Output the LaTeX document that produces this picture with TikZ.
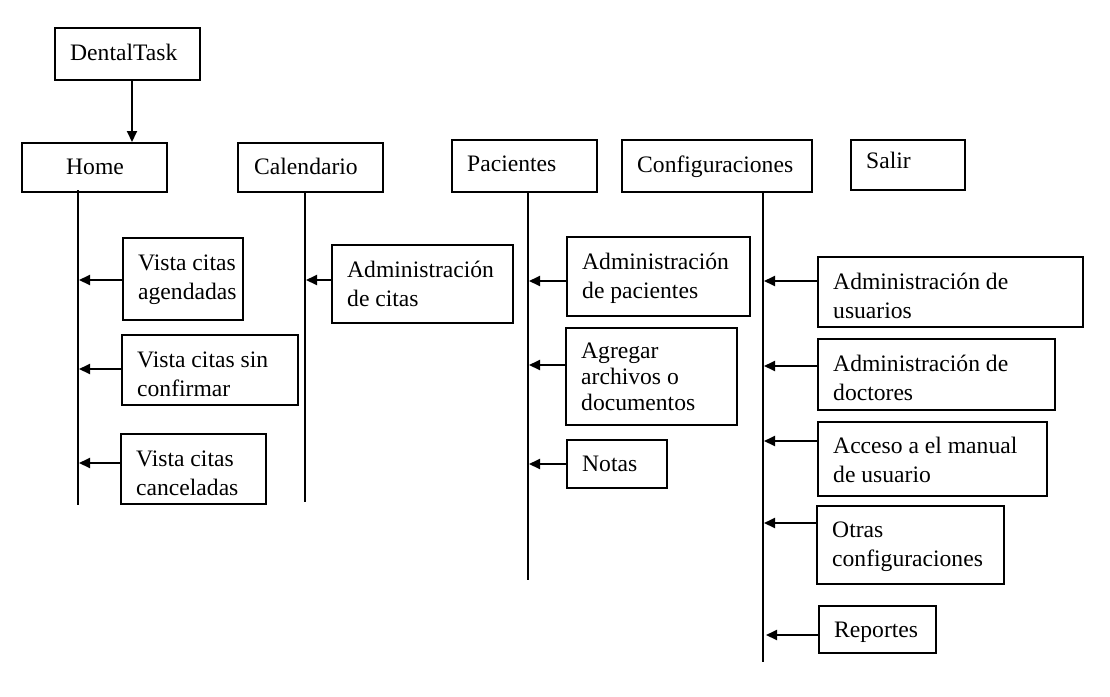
\documentclass[tikz,border=0pt]{standalone}
\usepackage{fontspec}
\setmainfont{Liberation Serif}
\usetikzlibrary{arrows.meta}
\newcommand{\lns}[1]{\begin{tabular}[t]{@{}l@{}}#1\end{tabular}}
\begin{document}
\begin{tikzpicture}[x=1pt,y=-1pt,
  box/.style={draw=black,line width=2pt,inner sep=0pt,fill=white},
  lbl/.style={inner sep=0pt,anchor=base west,font=\fontsize{23.6}{29.5}\selectfont},
  arr/.style={line width=2pt,-{Triangle[length=11pt,width=10pt]}},
  vline/.style={line width=2pt}]
\useasboundingbox[fill=white] (0,0) rectangle (1110,696);
% helper: box from (l,t) to (r,b)
\def\bx#1#2#3#4#5{\node[box,minimum width=#4-#2,minimum height=#5-#3] (#1) at ({(#2+#4)/2},{(#3+#5)/2}) {};}
% top level
\bx{dental}{55}{28}{200}{80}
\bx{home}{22}{143}{167}{192}
\bx{cal}{238}{143}{383}{192}
\bx{pac}{452}{140}{597}{192}
\bx{cfg}{622}{140}{812}{192}
\bx{sal}{851}{140}{965}{190}
\node[lbl] (dental-t) at (70,60) {DentalTask};
\node[lbl,anchor=base] (home-t) at (95,174) {Home};
\node[lbl] (cal-t) at (254,174) {Calendario};
\node[lbl] (pac-t) at (467,171) {Pacientes};
\node[lbl] (cfg-t) at (637,172) {Configuraciones};
\node[lbl] (sal-t) at (866,168) {Salir};
\draw[arr] ([xshift=4.5pt]dental.south) -- ([xshift=4.5pt]dental.south |- home.north);
% vertical lines
\coordinate (homeEnd) at (78,505);
\coordinate (calEnd) at (305,502);
\coordinate (pacEnd) at (528,580);
\coordinate (cfgEnd) at (763,662);
\draw[vline] ([yshift=3pt]home.south -| homeEnd) -- (homeEnd);
\draw[vline] (cal.south -| calEnd) -- (calEnd);
\draw[vline] (pac.south -| pacEnd) -- (pacEnd);
\draw[vline] (cfg.south -| cfgEnd) -- (cfgEnd);
% Home children
\bx{vca}{123}{238}{243}{320}
\bx{vcs}{122}{335}{298}{405}
\bx{vcc}{121}{434}{266}{504}
\node[lbl] (vca-t) at (138,270) {\lns{Vista citas\\agendadas}};
\node[lbl] (vcs-t) at (137,367) {\lns{Vista citas sin\\confirmar}};
\node[lbl] (vcc-t) at (136,466) {\lns{Vista citas\\canceladas}};
\coordinate (h1) at (79,280);
\coordinate (h2) at (79,369);
\coordinate (h3) at (79,463);
\draw[arr] (vca.west |- h1) -- (h1);
\draw[arr] (vcs.west |- h2) -- (h2);
\draw[arr] (vcc.west |- h3) -- (h3);
% Calendario child
\bx{adc}{332}{245}{513}{323}
\node[lbl] (adc-t) at (347,277) {\lns{Administración\\de citas}};
\coordinate (c1) at (306,280);
\draw[arr] (adc.west |- c1) -- (c1);
% Pacientes children
\bx{adp}{567}{237}{750}{316}
\bx{aad}{566}{328}{737}{425}
\bx{not}{567}{440}{667}{488}
\node[lbl] (adp-t) at (582,269) {\lns{Administración\\de pacientes}};
\node[lbl,font=\fontsize{23.6}{26}\selectfont] (aad-t) at (581,358) {\lns{Agregar\\archivos o\\documentos}};
\node[lbl] (not-t) at (582,471) {Notas};
\coordinate (p1) at (529,281);
\coordinate (p2) at (529,365);
\coordinate (p3) at (529,464);
\draw[arr] (adp.west |- p1) -- (p1);
\draw[arr] (aad.west |- p2) -- (p2);
\draw[arr] (not.west |- p3) -- (p3);
% Configuraciones children
\bx{adu}{818}{257}{1083}{327}
\bx{add}{818}{339}{1055}{410}
\bx{acm}{818}{422}{1047}{496}
\bx{otr}{817}{506}{1004}{584}
\bx{rep}{819}{606}{936}{653}
\node[lbl] (adu-t) at (833,289) {\lns{Administración de\\usuarios}};
\node[lbl] (add-t) at (833,371) {\lns{Administración de\\doctores}};
\node[lbl] (acm-t) at (833,453) {\lns{Acceso a el manual\\de usuario}};
\node[lbl] (otr-t) at (832,537) {\lns{Otras\\configuraciones}};
\node[lbl] (rep-t) at (834,637) {Reportes};
\coordinate (k1) at (764,281);
\coordinate (k2) at (764,366);
\coordinate (k3) at (764,441);
\coordinate (k4) at (764,523);
\coordinate (k5) at (766,635);
\draw[arr] (adu.west |- k1) -- (k1);
\draw[arr] (add.west |- k2) -- (k2);
\draw[arr] (acm.west |- k3) -- (k3);
\draw[arr] (otr.west |- k4) -- (k4);
\draw[arr] (rep.west |- k5) -- (k5);
\end{tikzpicture}
\end{document}
